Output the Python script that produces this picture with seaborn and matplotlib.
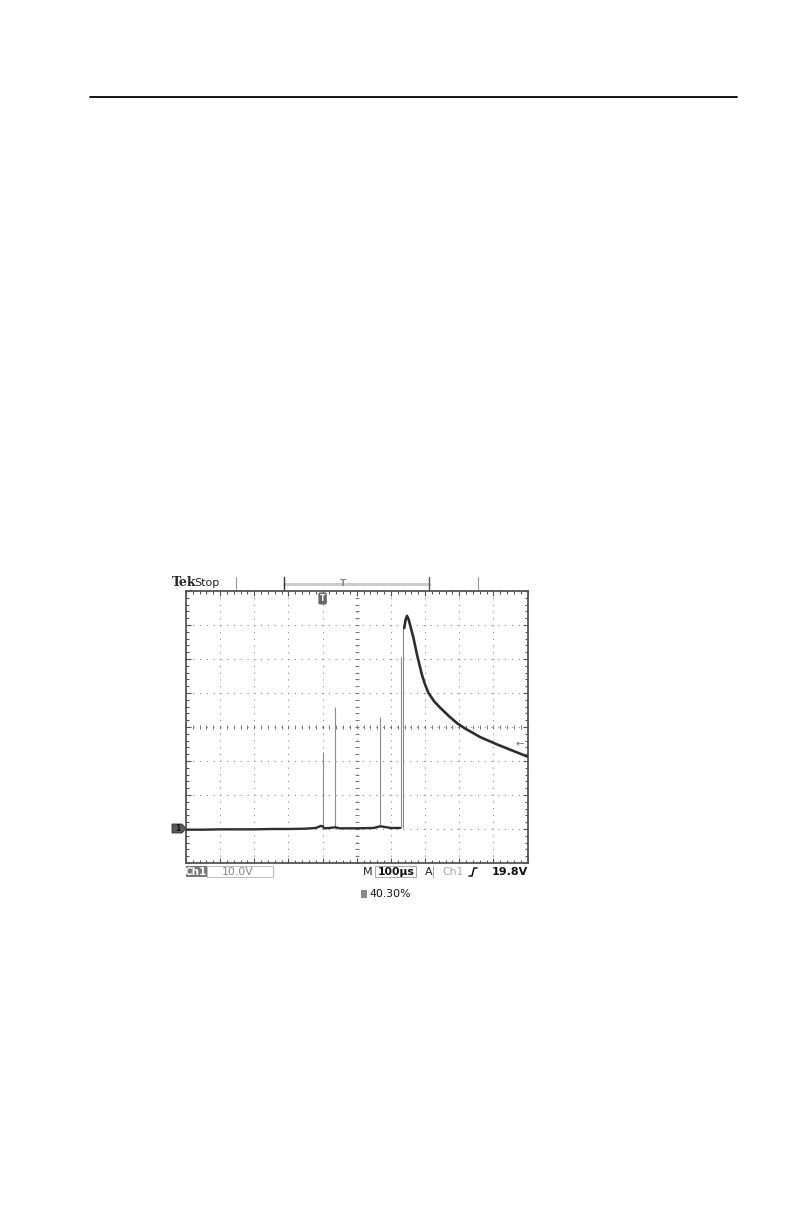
import numpy as np
import pandas as pd
import seaborn as sns
from matplotlib import pyplot as plt
from matplotlib.patches import Rectangle, Polygon

W, H = 793, 1225

# scope settings (100 us/div, 10 V/div, 10 x 8 divisions)
t_range = (0, 1000)      # us
v_range = (-10, 70)      # V, ground one division above the bottom

# baseline before the pulse
base_t = [0, 50, 100, 150, 200, 250, 300, 350, 380, 395, 400, 405, 420, 437, 450, 500, 550, 569, 600, 627]
base_v = [-0.2, -0.2, -0.1, -0.1, -0.1, 0.0, 0.0, 0.1, 0.3, 0.9, 0.8, 0.2, 0.3, 0.5, 0.2, 0.2, 0.3, 0.8, 0.3, 0.3]

# main pulse and decay
pulse_t = [639, 643, 647, 652, 658, 666, 678, 691, 700, 710, 727, 745, 770, 794, 818, 843, 862, 892, 915, 940, 970, 1000]
pulse_v = [59.1, 61.5, 62.7, 61.6, 59.3, 56.2, 50.6, 45.3, 42.5, 40.0, 37.5, 35.6, 33.2, 31.1, 29.5, 28.1, 27.0, 25.7, 24.7, 23.7, 22.5, 21.3]

# narrow glitches
spike_t = [402, 437, 569, 629.6, 635.5]
spike_top = [22.6, 35.9, 33.0, 50.6, 59.4]
spike_base = [0.5, 0.5, 0.8, 0.3, 0.3]

trig_level = 25.0
trig_pos = 400

sns.set_style("white")
plt.rcParams['font.family'] = ['DejaVu Sans']

fig = plt.figure(figsize=(W / 100, H / 100), dpi=100)

# overlay in pixel coordinates for page / status decorations
ov = fig.add_axes([0, 0, 1, 1], zorder=0)
ov.set_xlim(0, W)
ov.set_ylim(H, 0)
ov.axis('off')

ax = fig.add_axes([186 / W, 1 - 863 / H, 341.5 / W, 272 / H], zorder=1)
ax.set_facecolor('none')

# graticule
ax.set_xlim(*t_range)
ax.set_ylim(*v_range)
ax.set_xticks(np.arange(0, 1001, 100))
ax.set_yticks(np.arange(-10, 71, 10))
ax.set_xticks(np.arange(0, 1001, 20), minor=True)
ax.set_yticks(np.arange(-10, 71, 2), minor=True)
ax.tick_params(which='both', direction='in', top=True, right=True, bottom=True, left=True,
               labelbottom=False, labelleft=False, color='#555555', width=0.8)
ax.tick_params(which='major', length=3.5)
ax.tick_params(which='minor', length=2.2)
ax.grid(True, which='major', color='#8a8a8a', linestyle=(0, (1, 5.1)), linewidth=0.8)
for s in ax.spines.values():
    s.set_color('#555555')
    s.set_linewidth(1.3)

minor_t = np.arange(0, 1001, 20)
minor_v = np.arange(-10, 71, 2)
ax.plot(minor_t, np.full(len(minor_t), 30.0), ls='none', marker='|', ms=3, mew=0.7, color='#777777')
ax.plot(np.full(len(minor_v), 500.0), minor_v, ls='none', marker='_', ms=3, mew=0.7, color='#777777')

# trace
ax.vlines(spike_t, spike_base, spike_top, color='#8c8c8c', lw=0.8, zorder=3)
base = pd.DataFrame({'t': base_t, 'v': base_v})
pulse = pd.DataFrame({'t': pulse_t, 'v': pulse_v})
sns.lineplot(data=base, x='t', y='v', ax=ax, color='#2e2e2e', lw=1.7, zorder=4)
sns.lineplot(data=pulse, x='t', y='v', ax=ax, color='#2e2e2e', lw=1.9, zorder=4)
ax.set_xlabel('')
ax.set_ylabel('')

# trigger position marker and trigger level arrow
ax.annotate('T', xy=(trig_pos, 67.8), ha='center', va='center', fontsize=5.5, color='white',
            fontweight='bold', bbox=dict(boxstyle='round,pad=0.2', fc='#666666', ec='none'))
ax.annotate('←', xy=(1000, trig_level), xytext=(-2, 0), textcoords='offset points',
            ha='right', va='center', fontsize=7.5, color='#777777')

# page rule
ov.plot([90, 737], [97, 97], color='black', lw=1.3)

# top status line
ov.text(172, 583, 'Tek', fontsize=9, fontweight='bold', family='DejaVu Serif', va='center', ha='left')
ov.text(194.5, 582.5, 'Stop', fontsize=8, va='center', ha='left')
for x in [236, 478]:
    ov.plot([x, x], [577, 589], color='#999999', lw=0.8)
ov.plot([284, 429], [583.5, 583.5], color='#cccccc', lw=2.2)
ov.plot([283.5, 283.5], [577, 590], color='#333333', lw=1.0)
ov.plot([429, 429], [577, 590], color='#555555', lw=1.0)
ov.text(342.5, 584, 'T', fontsize=6.5, color='#888888', ha='center', va='center', fontweight='bold')

# ground marker for channel 1
ov.add_patch(Polygon([[172, 824], [182, 824], [186, 828.5], [182, 833], [172, 833]],
                     closed=True, fc='#5a5a5a', ec='#333333', lw=0.6))
ov.text(177.5, 828.8, '1', fontsize=5.5, color='#111111', ha='center', va='center', fontweight='bold')

# bottom status line
ov.add_patch(Rectangle((185.5, 866), 21.5, 11, fc='#7a7a7a', ec='none'))
ov.text(196, 871.8, 'Ch1', fontsize=7.5, color='white', ha='center', va='center', fontweight='bold')
ov.add_patch(Rectangle((207, 866), 66, 11, fc='none', ec='#bbbbbb', lw=0.7))
ov.text(222, 871.8, '10.0V', fontsize=7.8, color='#888888', ha='left', va='center')
ov.text(367.5, 871.8, 'M', fontsize=8, color='#222222', ha='center', va='center')
ov.add_patch(Rectangle((374.5, 866), 41, 11, fc='none', ec='#aaaaaa', lw=0.7))
ov.text(377.5, 871.8, '100µs', fontsize=7.8, color='#111111', ha='left', va='center', fontweight='bold')
ov.text(428.5, 871.8, 'A', fontsize=8, color='#222222', ha='center', va='center')
ov.plot([433, 433], [866, 877], color='#aaaaaa', lw=0.8)
ov.text(442, 871.8, 'Ch1', fontsize=7.8, color='#aaaaaa', ha='left', va='center')
ov.plot([469, 472, 474, 477], [876, 876, 868, 868], color='#111111', lw=1.1)
ov.text(527.5, 871.8, '19.8V', fontsize=8, color='#111111', ha='right', va='center', fontweight='bold')

# trigger position readout
ov.add_patch(Rectangle((360.5, 890), 6.5, 8, fc='#8a8a8a', ec='none'))
ov.text(369, 894.3, '40.30%', fontsize=7.8, color='#111111', ha='left', va='center')

fig.savefig('out.png', dpi=100)
